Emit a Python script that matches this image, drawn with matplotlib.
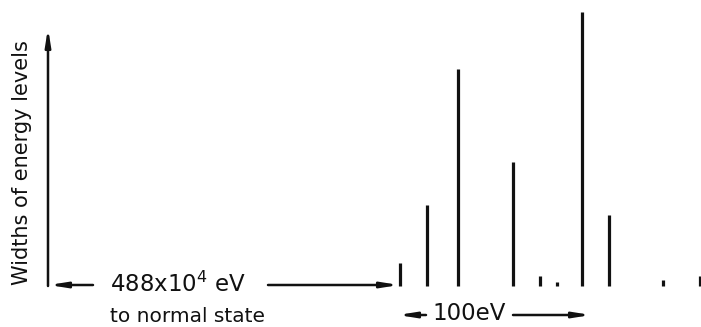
import matplotlib
matplotlib.use("Agg")
import matplotlib.pyplot as plt

# Energy levels (eV relative to first level shown) and their widths (arbitrary units)
level_energy_ev = [0, 14, 30, 59, 73, 82, 95, 109, 137, 156]
level_width = [23, 81, 217, 124, 10, 4, 274, 71, 6, 10]

ylabel_text = "Widths of energy levels"
gap_text = "488x10$^4$ eV"
gap_sub_text = "to normal state"
scale_text = "100eV"

px_per_ev = 1.92
fig = plt.figure(figsize=(7.01, 3.27), dpi=100)
ax = fig.add_axes([0, 0, 1, 1])
ax.set_xlim(-400 / px_per_ev, 301 / px_per_ev)
ax.set_ylim(-41, 286)
ax.axis("off")

def px(x):
    return (x - 400) / px_per_ev

def py(y):
    return 286 - y

ink = "#111111"
ax.vlines(level_energy_ev, 0, level_width, colors=ink, linewidth=2.3, capstyle="butt")

arrow = dict(arrowstyle="-|>,head_length=1.0,head_width=0.16", color=ink, lw=1.8,
             shrinkA=0, shrinkB=0)
# vertical axis with arrow
ax.annotate("", xy=(px(48), py(28)), xytext=(px(48), py(286)), arrowprops=arrow)
# horizontal gap arrows
ax.annotate("", xy=(px(49), py(285)), xytext=(px(93), py(285)), arrowprops=arrow)
ax.annotate("", xy=(px(399), py(285)), xytext=(px(268), py(285)), arrowprops=arrow)
ax.text(px(178), py(284), gap_text, fontsize=16.5, ha="center", va="center", color=ink)
ax.text(px(188), py(316), gap_sub_text, fontsize=14.5, ha="center", va="center", color=ink)
# 100 eV scale
ax.annotate("", xy=(px(398), py(315)), xytext=(px(426), py(315)), arrowprops=arrow)
ax.annotate("", xy=(px(591), py(315)), xytext=(px(513), py(315)), arrowprops=arrow)
ax.text(px(469), py(314), scale_text, fontsize=16.5, ha="center", va="center", color=ink)
ax.text(px(22), py(163), ylabel_text, fontsize=15, rotation=90, ha="center", va="center",
        color=ink)

fig.savefig("out.png", dpi=100, facecolor="white")
